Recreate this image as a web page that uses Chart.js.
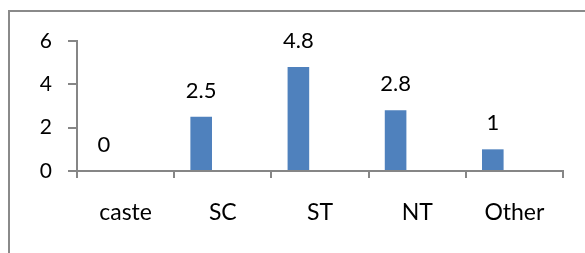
<!DOCTYPE html>
<html>
<head>
<meta charset="utf-8">
<script src="https://cdn.jsdelivr.net/npm/chart.js@4.4.0/dist/chart.umd.min.js"></script>
<style>
  html, body { margin: 0; padding: 0; background: #fff; }
  #wrap { width: 585px; height: 253px; position: relative; }
</style>
</head>
<body>
<div id="wrap"><canvas id="chart"></canvas></div>
<script>
// categories en waarden
const categories = ["caste", "SC", "ST", "NT", "Other"];
const values = [0, 2.5, 4.8, 2.8, 1];
// lege reeksen die in het origineel ruimte innemen
const emptySeries = [null, null, null, null, null];
const yTicks = [0, 2, 4, 6];

const axisColor = "#868686";
const barColor = "#4f81bd";
const fontFamily = "Lato, 'Open Sans', sans-serif";

// kader links en boven
const framePlugin = {
  id: "frame",
  beforeDraw(chart) {
    const ctx = chart.ctx;
    ctx.save();
    ctx.strokeStyle = "#8a8a8a";
    ctx.lineWidth = 2;
    ctx.beginPath();
    ctx.moveTo(9, 253);
    ctx.lineTo(9, 11);
    ctx.lineTo(585, 11);
    ctx.stroke();
    ctx.restore();
  },
};

// waardelabels boven de staven
const labelPlugin = {
  id: "valueLabels",
  afterDatasetsDraw(chart) {
    const ctx = chart.ctx;
    const meta = chart.getDatasetMeta(0);
    ctx.save();
    ctx.fillStyle = "#000";
    ctx.font = "22px " + fontFamily;
    ctx.textAlign = "center";
    ctx.textBaseline = "middle";
    meta.data.forEach((bar, i) => {
      ctx.fillText(String(values[i]), bar.x, bar.y - 26);
    });
    ctx.restore();
  },
};

new Chart(document.getElementById("chart"), {
  type: "bar",
  data: {
    labels: categories,
    datasets: [
      { data: values, backgroundColor: barColor, borderWidth: 0 },
      { data: emptySeries },
      { data: emptySeries },
    ],
  },
  options: {
    responsive: true,
    maintainAspectRatio: false,
    animation: false,
    datasets: {
      bar: { categoryPercentage: 0.667, barPercentage: 1 },
    },
    layout: { padding: { top: 41, right: 22, left: 0, bottom: 0 } },
    plugins: {
      legend: { display: false },
      tooltip: { enabled: false },
    },
    scales: {
      x: {
        grid: {
          offset: true,
          drawOnChartArea: false,
          drawTicks: true,
          tickLength: 7,
          color: axisColor,
          lineWidth: 2,
        },
        border: { display: true, color: axisColor, width: 2 },
        ticks: {
          color: "#000",
          padding: 21,
          maxRotation: 0,
          font: { family: fontFamily, size: 23 },
        },
        afterFit(scale) {
          scale.height = 82;
        },
      },
      y: {
        min: 0,
        max: 6,
        afterBuildTicks(scale) {
          scale.ticks = yTicks.map((v) => ({ value: v }));
        },
        grid: {
          drawOnChartArea: false,
          drawTicks: true,
          tickLength: 9,
          color: axisColor,
          lineWidth: 2,
        },
        border: { display: true, color: axisColor, width: 2 },
        ticks: {
          color: "#000",
          padding: 16,
          font: { family: fontFamily, size: 21 },
        },
        afterFit(scale) {
          scale.width = 77;
        },
      },
    },
  },
  plugins: [framePlugin, labelPlugin],
});
</script>
</body>
</html>
